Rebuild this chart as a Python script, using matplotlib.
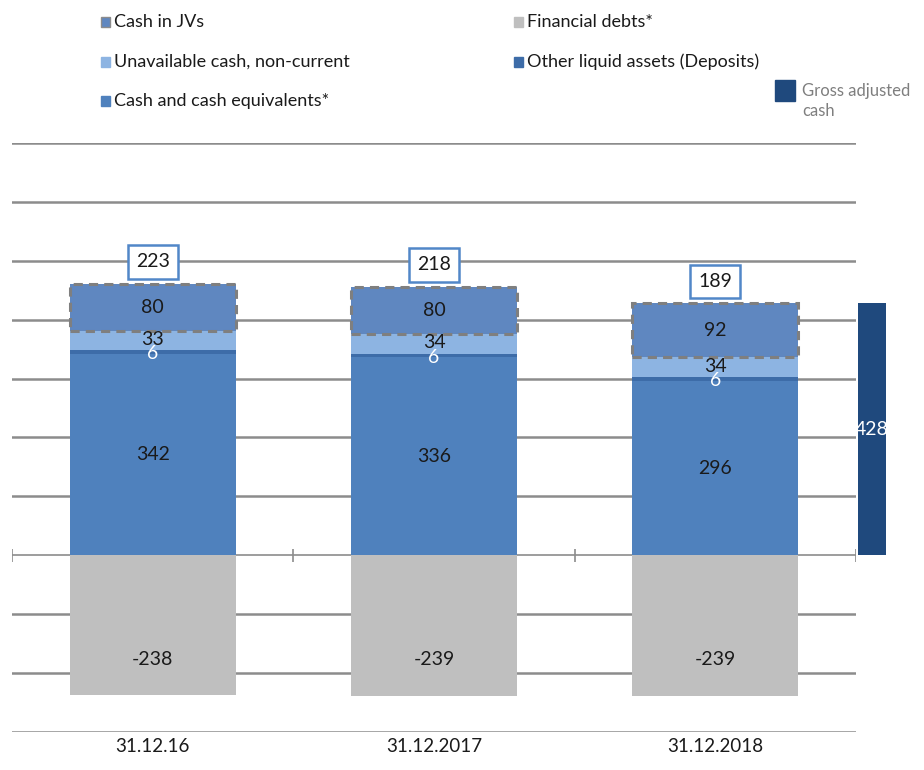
import matplotlib
matplotlib.use('Agg')
import matplotlib.pyplot as plt
from matplotlib.patches import Rectangle

plt.rcParams['font.family'] = ['Lato', 'DejaVu Sans']

dates = ['31.12.16', '31.12.2017', '31.12.2018']
cash_equivalents = [342, 336, 296]
other_liquid = [6, 6, 6]
unavailable_cash = [33, 34, 34]
cash_in_jvs = [80, 80, 92]
financial_debts = [-238, -239, -239]
net_labels = [223, 218, 189]
gross_adjusted_cash = 428

c_eq = '#4f81bd'
c_other = '#3d6ca8'
c_unav = '#8db4e2'
c_jv = '#5f87c0'
c_debt = '#bfbfbf'
c_gross = '#1f497d'
c_grid = '#8c8c8c'

fig = plt.figure(figsize=(9.24, 7.7), dpi=100)
ax = fig.add_axes([12 / 924, 38 / 770, 844 / 924, 589 / 770])
ax.set_xlim(-0.5, 2.5)
ax.set_ylim(-300, 700)
ax.axis('off')

for y in range(-300, 701, 100):
    if y != 0:
        ax.axhline(y, color=c_grid, lw=1.8, zorder=0)
ax.axhline(0, color=c_grid, lw=1.2, zorder=0)
ax.vlines([-0.5, 0.5, 1.5, 2.5], -11, 11, color=c_grid, lw=1.2, zorder=0)

x = list(range(len(dates)))
w = 0.59
b1 = cash_equivalents
b2 = [a + b for a, b in zip(b1, other_liquid)]
b3 = [a + b for a, b in zip(b2, unavailable_cash)]
tot = [a + b for a, b in zip(b3, cash_in_jvs)]

ax.bar(x, cash_equivalents, w, color=c_eq, zorder=2)
ax.bar(x, other_liquid, w, bottom=b1, color=c_other, zorder=2)
ax.bar(x, unavailable_cash, w, bottom=b2, color=c_unav, zorder=2)
ax.bar(x, cash_in_jvs, w, bottom=b3, color=c_jv, zorder=2)
ax.bar(x, financial_debts, w, color=c_debt, zorder=2)

for i in x:
    ax.add_patch(Rectangle((i - w / 2, b3[i]), w, cash_in_jvs[i], fill=False,
                           edgecolor='#7f7f7f', lw=2.2, ls=(0, (3, 2)), zorder=3))
    ax.text(i, cash_equivalents[i] / 2, str(cash_equivalents[i]), ha='center', va='center',
            fontsize=14, color='#1a1a1a', zorder=4)
    ax.text(i, b1[i] + other_liquid[i] / 2 - 3, str(other_liquid[i]), ha='center', va='center',
            fontsize=14, color='white', zorder=4)
    ax.text(i, b2[i] + unavailable_cash[i] / 2 + 2, str(unavailable_cash[i]), ha='center',
            va='center', fontsize=14, color='#1a1a1a', zorder=4)
    ax.text(i, b3[i] + cash_in_jvs[i] / 2, str(cash_in_jvs[i]), ha='center', va='center',
            fontsize=14, color='#1a1a1a', zorder=4)
    ax.text(i, financial_debts[i] * 0.74, str(financial_debts[i]), ha='center', va='center',
            fontsize=14, color='#1a1a1a', zorder=4)
    ax.text(i, tot[i] + 37, str(net_labels[i]), ha='center', va='center', fontsize=14,
            color='#1a1a1a', zorder=4,
            bbox=dict(boxstyle='square,pad=0.42', fc='white', ec='#5187c8', lw=1.8))
    ax.text(i, -325, dates[i], ha='center', va='center', fontsize=13.5, color='#1a1a1a')

# gross adjusted cash bar, just right of the plot area
gx = 2.557
ax.bar(gx, gross_adjusted_cash, 0.1, color=c_gross, zorder=2, clip_on=False)
ax.text(gx, gross_adjusted_cash / 2, str(gross_adjusted_cash), ha='center', va='center',
        fontsize=14, color='white', zorder=4, clip_on=False)

# legend
def legend_item(px, py, label, color, edge=None):
    fig.patches.append(Rectangle((px / 924, 1 - (py + 5) / 770), 9 / 924, 10 / 770,
                                 transform=fig.transFigure, fc=color,
                                 ec=edge if edge else color, lw=1))
    fig.text((px + 13) / 924, 1 - py / 770, label, ha='left', va='center',
             fontsize=13, color='#1a1a1a')

legend_item(101, 22, 'Cash in JVs', c_jv, '#8c8c8c')
legend_item(514, 22, 'Financial debts*', c_debt)
legend_item(101, 62, 'Unavailable cash, non-current', c_unav)
legend_item(514, 62, 'Other liquid assets (Deposits)', c_other)
legend_item(101, 101, 'Cash and cash equivalents*', c_eq)

fig.patches.append(Rectangle((775 / 924, 1 - 101 / 770), 20 / 924, 21 / 770,
                             transform=fig.transFigure, fc=c_gross, ec=c_gross))
fig.text(802 / 924, 1 - 101 / 770, 'Gross adjusted\ncash', ha='left', va='center',
         fontsize=12, color='#7f7f7f', linespacing=1.3)

fig.savefig('out.png', dpi=100)
